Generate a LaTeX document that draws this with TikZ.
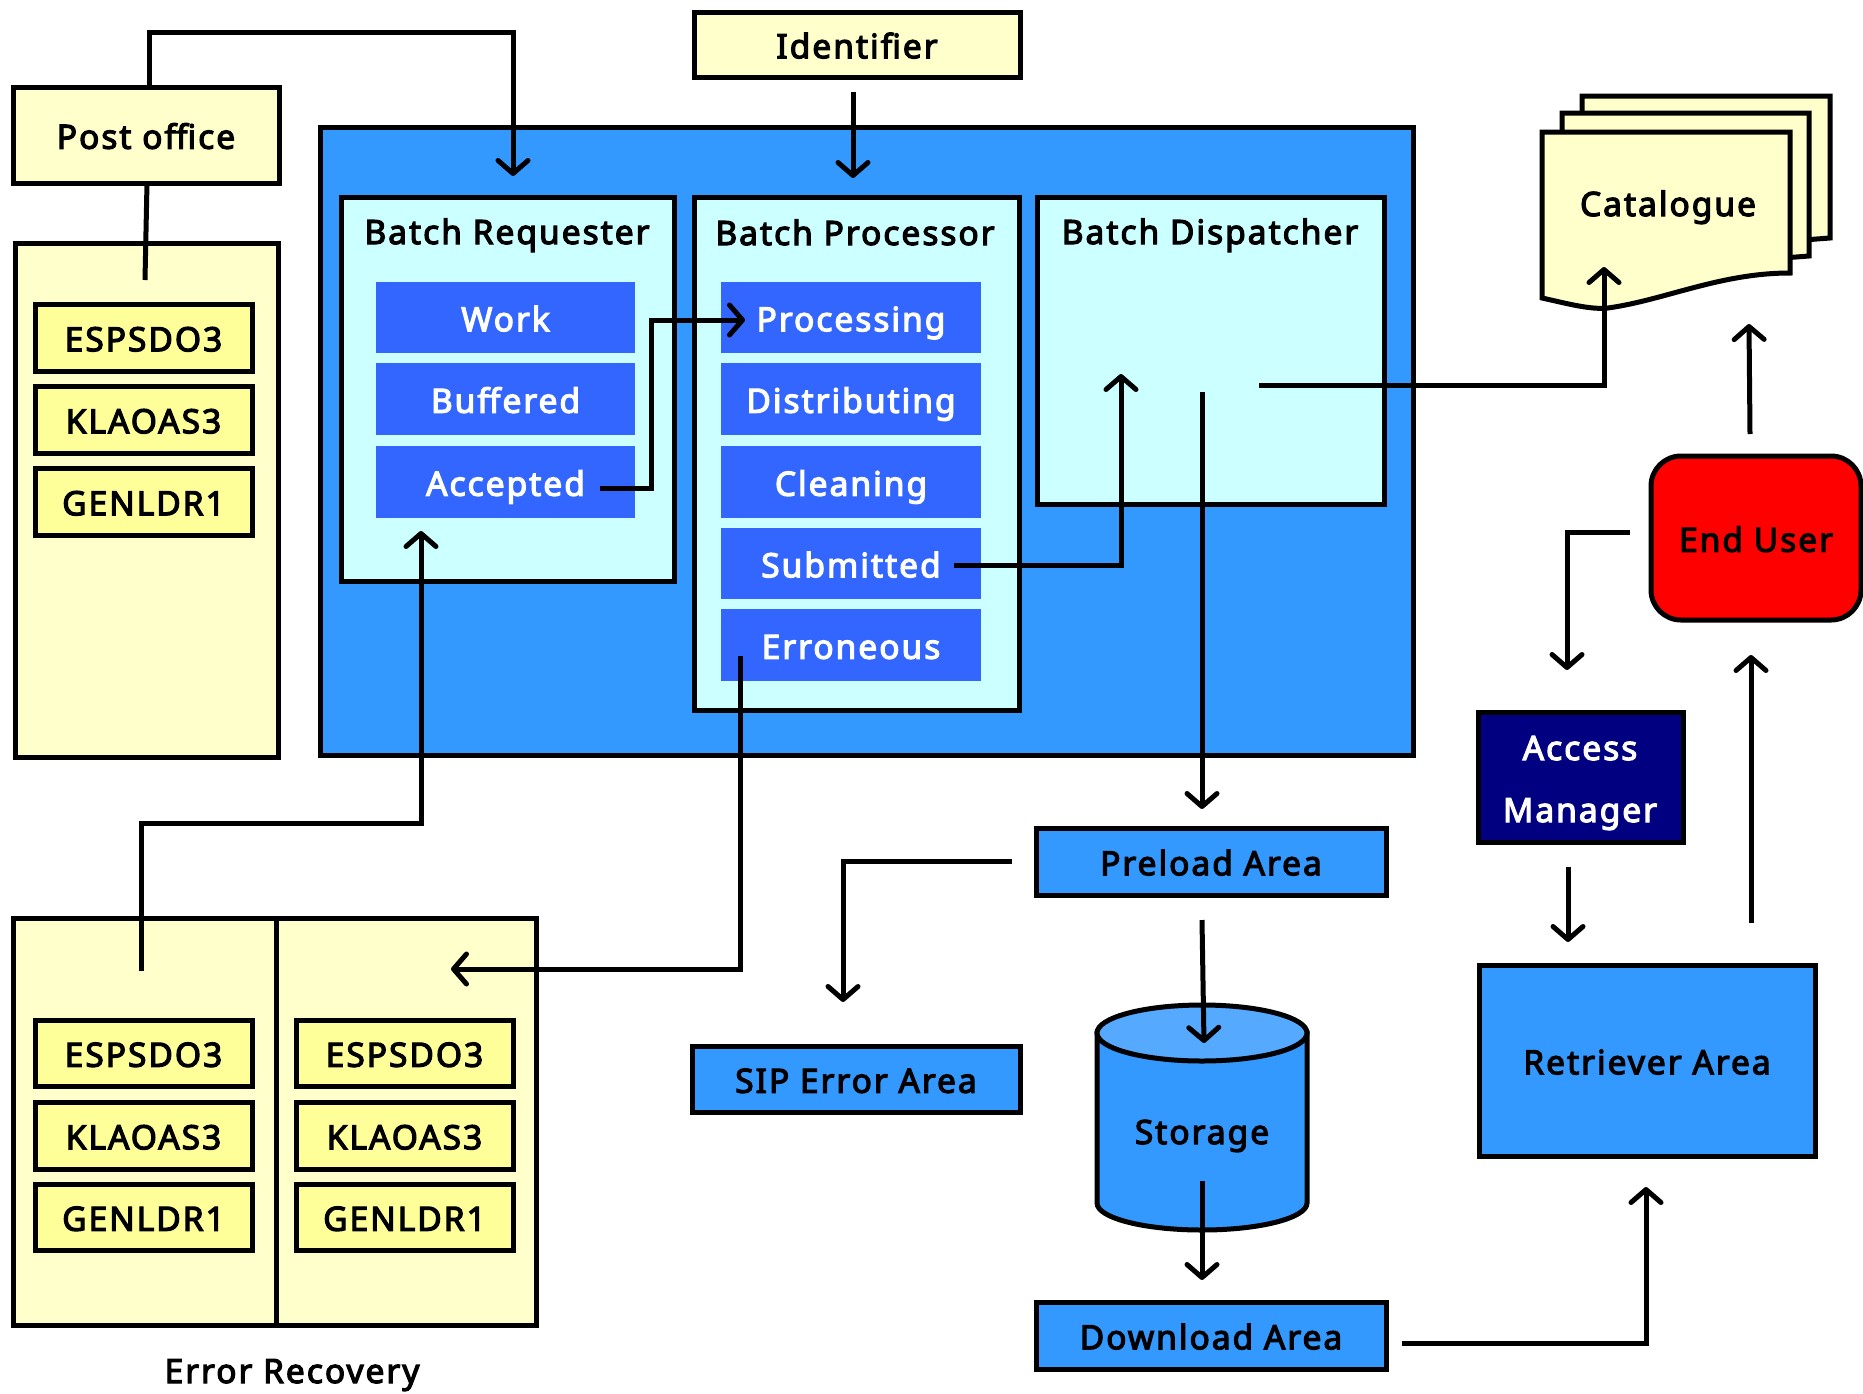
\documentclass[tikz,border=0pt]{standalone}
\usepackage{fontspec}
\setmainfont{Noto Sans}[BoldFont={Noto Sans},BoldFeatures={FakeBold=3.5,LetterSpace=6}]
\usetikzlibrary{arrows.meta}
\definecolor{bigblue}{HTML}{3399FF}
\definecolor{paleyellow}{HTML}{FFFFCC}
\definecolor{itemyellow}{HTML}{FFFF99}
\definecolor{palecyan}{HTML}{CCFFFF}
\definecolor{subblue}{HTML}{3366FF}
\definecolor{topblue}{HTML}{55A9FF}
\definecolor{navyblue}{HTML}{000080}
\newcommand{\bx}[7][]{%
  \pgfmathsetmacro{\bw}{#5-#3}\pgfmathsetmacro{\bh}{#6-#4}%
  \pgfmathsetmacro{\bcx}{(#3+#5)/2}\pgfmathsetmacro{\bcy}{(#4+#6)/2}%
  \node[#2,minimum width=\bw pt,minimum height=\bh pt,#1] at (\bcx,\bcy) {#7};}
\tikzset{
  box/.style={draw=black,line width=5pt,inner sep=0pt,outer sep=0pt,font=\fontsize{33.5}{38}\selectfont\bfseries,text=black,text height=27.5pt,text depth=0pt,line join=miter},
  yellowbox/.style={box,fill=paleyellow},
  itembox/.style={box,fill=itemyellow},
  bluebox/.style={box,fill=bigblue},
  cyanbox/.style={box,fill=palecyan},
  subbox/.style={inner sep=0pt,outer sep=0pt,fill=subblue,text=white,font=\fontsize{33.5}{38}\selectfont\bfseries,text height=27.5pt,text depth=0pt},
  lab/.style={inner sep=0pt,outer sep=0pt,font=\fontsize{33.5}{38}\selectfont\bfseries,text height=24pt,text depth=0pt},
  conn/.style={draw=black,line width=5pt,line join=miter},
  arr/.style={conn,-{Straight Barb[length=13pt,width=30pt,line cap=round,line join=round]}},
}
\begin{document}
\begin{tikzpicture}[x=1pt,y=-1pt]
\useasboundingbox (0,0) rectangle (1863,1393);
% left panel
\bx[name=panel]{yellowbox}{15}{243}{278}{757}{}
\bx[name=post]{yellowbox}{13}{87}{279}{183}{Post office}
\bx[name=a1]{itembox}{35}{304}{252}{371}{ESPSDO3}
\bx[name=a2]{itembox}{35}{386}{252}{453}{KLAOAS3}
\bx[name=a3]{itembox}{35}{468}{252}{535}{GENLDR1}
% big blue
\bx[name=big]{bluebox}{320}{127}{1413}{755}{}
\bx[name=identifier]{yellowbox}{694}{12}{1020}{77}{Identifier}
\bx[name=req]{cyanbox}{341}{197}{674}{581}{}
\bx[name=proc]{cyanbox}{694}{197}{1019}{710}{}
\bx[name=disp]{cyanbox}{1037}{197}{1384}{504}{}
\node[lab] (reqt) at (507,232) {Batch Requester};
\node[lab] (proct) at (855,233) {Batch Processor};
\node[lab] (dispt) at (1210,232) {Batch Dispatcher};
\bx[name=work]{subbox}{376}{282}{635}{353}{Work}
\bx[name=buffered]{subbox}{376}{363}{635}{435}{Buffered}
\bx[name=accepted]{subbox}{376}{446}{635}{518}{Accepted}
\bx[name=processing]{subbox}{721}{282}{981}{353}{Processing}
\bx[name=distributing]{subbox}{721}{363}{981}{435}{Distributing}
\bx[name=cleaning]{subbox}{721}{446}{981}{518}{Cleaning}
\bx[name=submitted]{subbox}{721}{528}{981}{599}{Submitted}
\bx[name=erroneous]{subbox}{721}{609}{981}{681}{Erroneous}
% error recovery
\bx[name=err]{yellowbox}{13}{918}{536}{1325}{}
\coordinate (divT) at (276,918); \coordinate (divB) at (276,1328);
\draw[conn] (divT) -- (divB);
\bx[name=b1]{itembox}{35}{1020}{252}{1086}{ESPSDO3}
\bx[name=b2]{itembox}{35}{1102}{252}{1169}{KLAOAS3}
\bx[name=b3]{itembox}{35}{1184}{252}{1250}{GENLDR1}
\bx[name=c1]{itembox}{296}{1020}{513}{1086}{ESPSDO3}
\bx[name=c2]{itembox}{296}{1102}{513}{1169}{KLAOAS3}
\bx[name=c3]{itembox}{296}{1184}{513}{1250}{GENLDR1}
\node[lab] (errt) at (292,1371) {Error Recovery};
% catalogue
\path[draw=black,fill=paleyellow,line width=5pt,line join=miter]
  (1582,96) -- (1830,96) -- (1830,238) -- (1790,241) -- (1582,241) -- cycle;
\path[draw=black,fill=paleyellow,line width=5pt,line join=miter]
  (1562,113) -- (1809,113) -- (1809,256) -- (1770,259) -- (1562,259) -- cycle;
\path[draw=black,fill=paleyellow,line width=5pt,line join=miter]
  (1542,132) -- (1790,132) -- (1790,273)
  .. controls (1720,273) and (1665,300) .. (1608,308)
  .. controls (1590,310) and (1565,303) .. (1542,298) -- cycle;
\node[lab] (catalogue) at (1668,204) {Catalogue};
% right side
\bx[name=enduser,rounded corners=30pt]{box,fill=red}{1651}{456}{1861}{620}{End User}
\bx[name=access,align=center]{box,fill=navyblue,text=white}{1478}{712}{1683}{842}{}
\node[lab,text=white] (accesst) at (1580,748) {Access};
\node[lab,text=white] (managert) at (1580,810) {Manager};
\bx[name=retriever]{bluebox}{1479}{965}{1815}{1156}{Retriever Area}
\bx[name=preload]{bluebox}{1036}{828}{1386}{895}{Preload Area}
\bx[name=sip]{bluebox}{692}{1046}{1020}{1112}{SIP Error Area}
\bx[name=download]{bluebox}{1036}{1302}{1386}{1369}{Download Area}
% storage
\path[draw=black,fill=bigblue,line width=5pt]
  (1097,1033) -- (1097,1203) arc[start angle=180,end angle=360,x radius=105,y radius=-27] -- (1307,1033) -- cycle;
\path[draw=black,fill=topblue,line width=5pt]
  (1202,1033) ellipse[x radius=105,y radius=28];
\node[lab] (storage) at (1202,1132) {Storage};
% connector ends
\coordinate (p1) at (149,87); \coordinate (p2) at (149,32); \coordinate (p3) at (513,32); \coordinate (p4) at (513,176);
\coordinate (q1) at (147,183); \coordinate (q2) at (145,280);
\coordinate (i1) at (853,92); \coordinate (i2) at (853,178);
\coordinate (ac1) at (600,488); \coordinate (ac2) at (651,488); \coordinate (ac3) at (651,320); \coordinate (ac4) at (745,320);
\coordinate (e1) at (141,971); \coordinate (e2) at (141,823); \coordinate (e3) at (421,823); \coordinate (e4) at (421,531);
\coordinate (f1) at (740,656); \coordinate (f2) at (740,969); \coordinate (f3) at (451,969);
\coordinate (s1) at (954,565); \coordinate (s2) at (1121,565); \coordinate (s3) at (1121,374);
\coordinate (d1) at (1259,385); \coordinate (d2) at (1604,385); \coordinate (d3) at (1604,267);
\coordinate (g1) at (1202,392); \coordinate (g2) at (1202,809);
\coordinate (h1) at (1012,861); \coordinate (h2) at (843,861); \coordinate (h3) at (843,1002);
\coordinate (k1) at (1202,920); \coordinate (k2) at (1204,1043);
\coordinate (m1) at (1202,1181); \coordinate (m2) at (1202,1280);
\coordinate (n1) at (1402,1343); \coordinate (n2) at (1646,1343); \coordinate (n3) at (1646,1187);
\coordinate (r1) at (1568,867); \coordinate (r2) at (1568,942);
\coordinate (t1) at (1751,923); \coordinate (t2) at (1751,655);
\coordinate (u1) at (1630,532); \coordinate (u2) at (1567,532); \coordinate (u3) at (1567,670);
\coordinate (v1) at (1750,434); \coordinate (v2) at (1749,324);
% connectors
\draw[arr] (p1) -- (p2) -- (p3) -- (p4);
\draw[conn] (q1) -- (q2);
\draw[arr] (i1) -- (i2);
\draw[arr] (ac1) -- (ac2) -- (ac3) -- (ac4);
\draw[arr] (e1) -- (e2) -- (e3) -- (e4);
\draw[arr] (f1) -- (f2) -- (f3);
\draw[arr] (s1) -- (s2) -- (s3);
\draw[arr] (d1) -- (d2) -- (d3);
\draw[arr] (g1) -- (g2);
\draw[arr] (h1) -- (h2) -- (h3);
\draw[arr] (k1) -- (k2);
\draw[arr] (m1) -- (m2);
\draw[arr] (n1) -- (n2) -- (n3);
\draw[arr] (r1) -- (r2);
\draw[arr] (t1) -- (t2);
\draw[arr] (u1) -- (u2) -- (u3);
\draw[arr] (v1) -- (v2);
\end{tikzpicture}
\end{document}
